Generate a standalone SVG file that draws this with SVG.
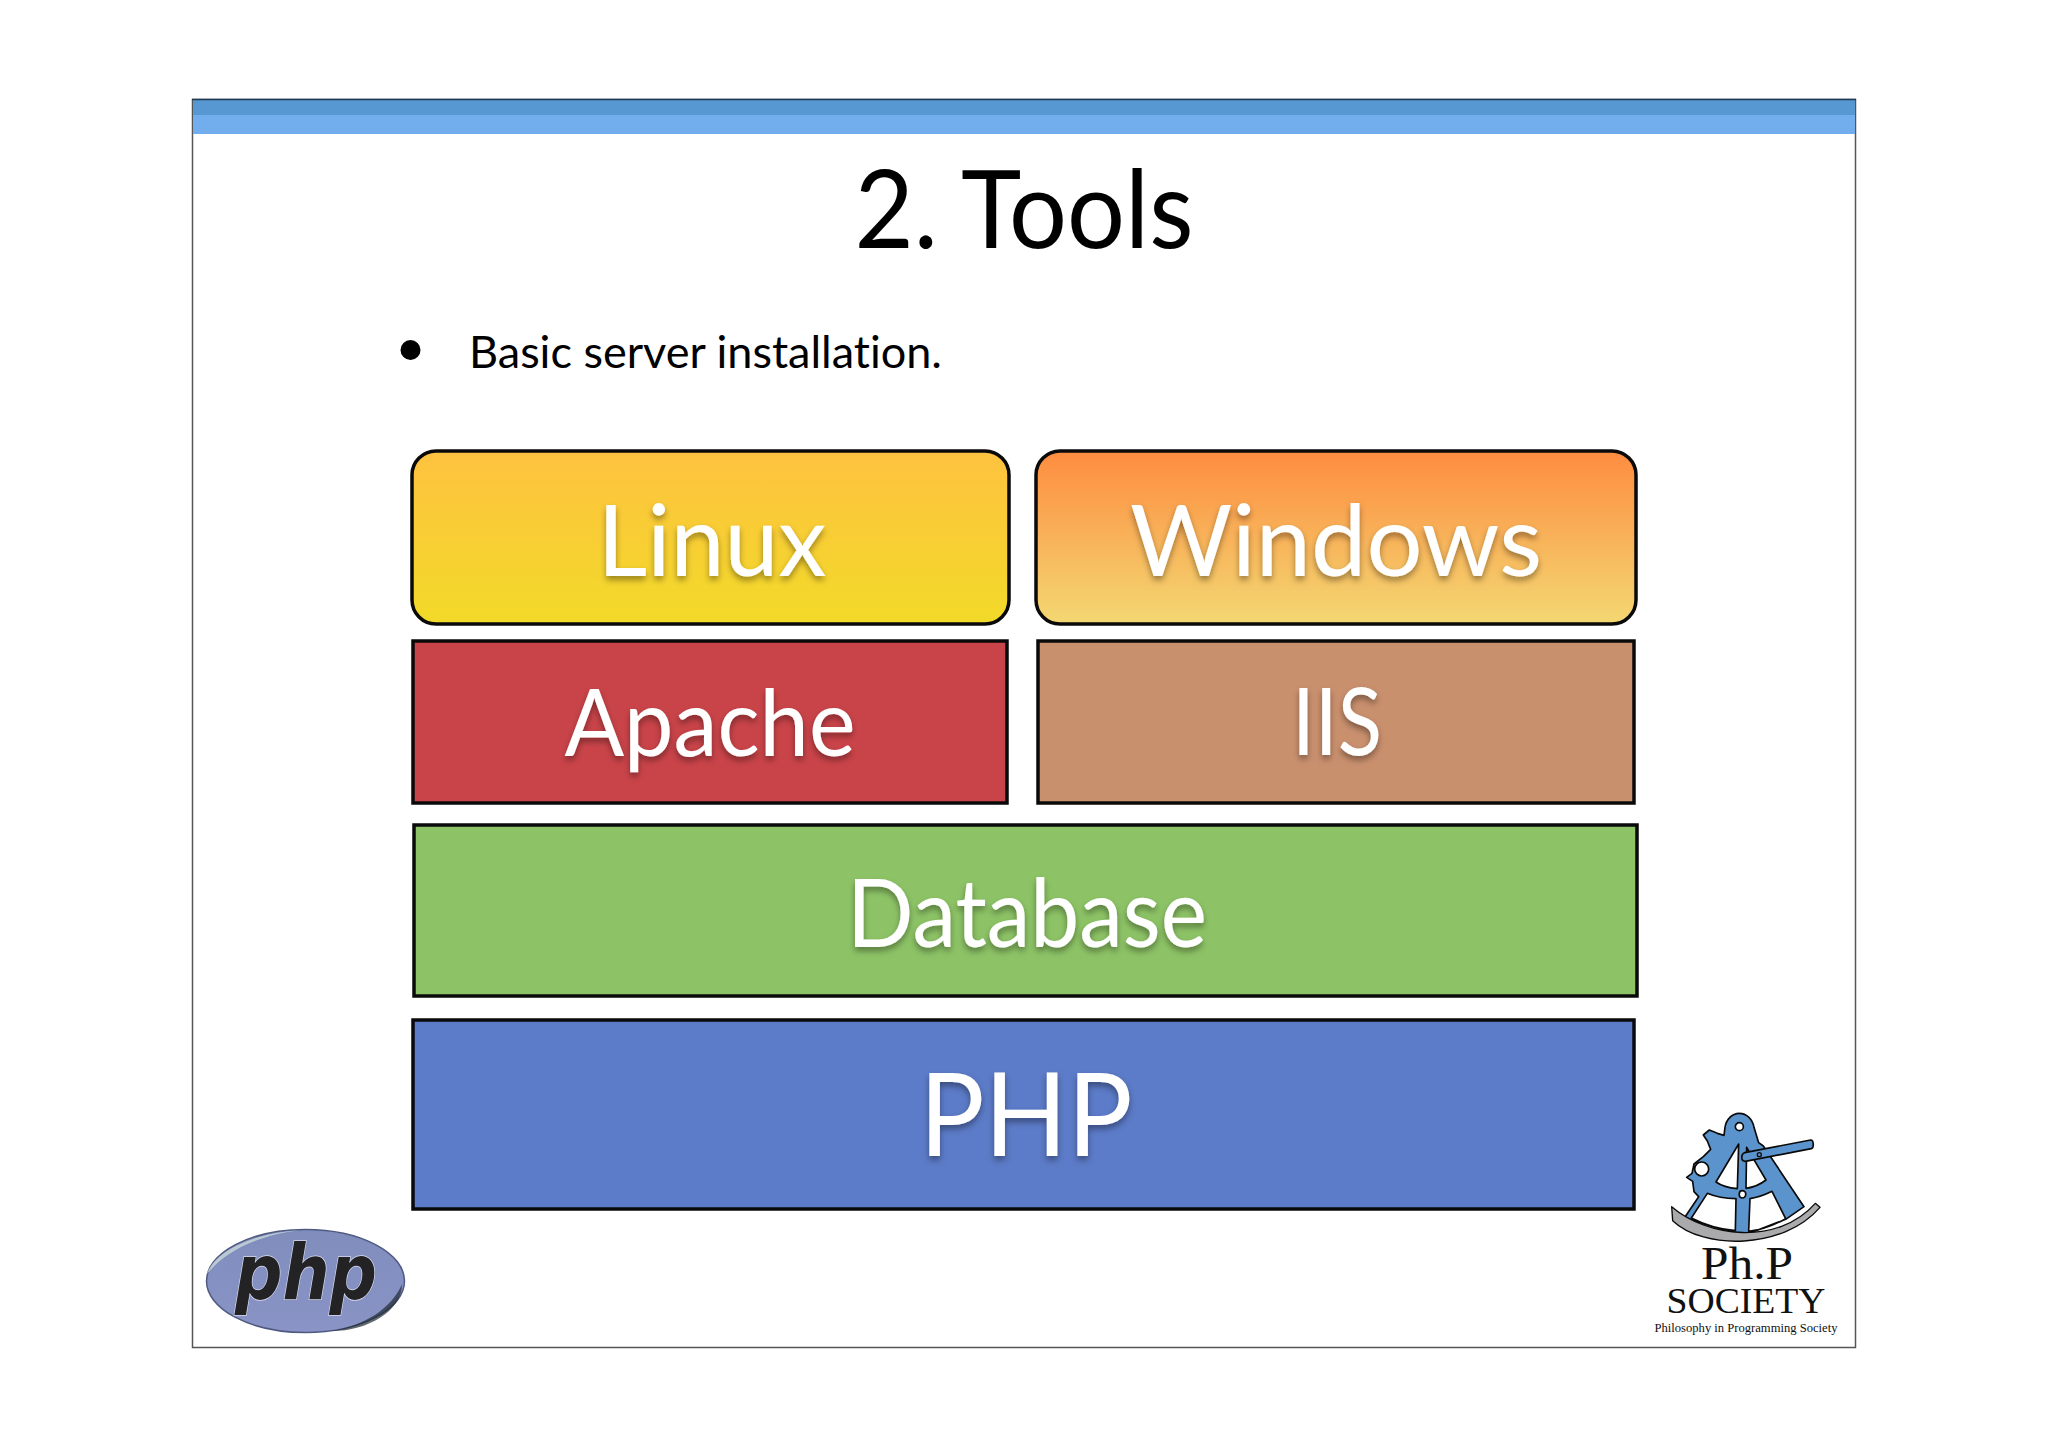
<svg xmlns="http://www.w3.org/2000/svg" width="2048" height="1447" viewBox="0 0 2048 1447">
<defs>
<linearGradient id="gLinux" x1="0" y1="0" x2="0" y2="1"><stop offset="0" stop-color="#fec240"/><stop offset="1" stop-color="#f2da28"/></linearGradient>
<linearGradient id="gWin" x1="0" y1="0" x2="0" y2="1"><stop offset="0" stop-color="#fe8c40"/><stop offset="1" stop-color="#f3d872"/></linearGradient>
<linearGradient id="gPhp" x1="0" y1="0" x2="0" y2="1"><stop offset="0" stop-color="#7f8dbd"/><stop offset="1" stop-color="#8a94c6"/></linearGradient>
<filter id="sh" x="-10%" y="-20%" width="120%" height="140%"><feDropShadow dx="0" dy="4" stdDeviation="3" flood-color="#000" flood-opacity="0.38"/></filter>
</defs>
<style>
text{font-variant-ligatures:none}
.box{stroke:#0a0a0a;stroke-width:3.5}
.lab{font-family:"Lato","Liberation Sans",sans-serif;fill:#fff;text-anchor:middle;filter:url(#sh)}
.ser{font-family:"Liberation Serif",serif;fill:#111;text-anchor:middle}
.sx{fill:#5b94cc;stroke:#0a0a0a;stroke-width:5;stroke-linejoin:round}
</style>
<rect width="2048" height="1447" fill="#fff"/>
<g id="slide">
<rect x="192.5" y="99.5" width="1663" height="1248" fill="#fff" stroke="#555" stroke-width="1.5"/>
<rect x="193" y="100" width="1662" height="15" fill="#5898d2"/>
<rect x="193" y="115" width="1662" height="19" fill="#72aeee"/>
<line x1="192" y1="99.5" x2="1856" y2="99.5" stroke="#1d3a55" stroke-width="1.5"/>
</g>
<text id="title" x="1024" y="248" font-family="Lato,'Liberation Sans',sans-serif" font-size="108" text-anchor="middle" textLength="339" lengthAdjust="spacingAndGlyphs" fill="#000">2. Tools</text>
<g id="bullet">
<circle cx="410.500" cy="350" r="10" fill="#000"/>
<text x="469" y="368" font-family="Lato,'Liberation Sans',sans-serif" font-size="45" textLength="473" lengthAdjust="spacingAndGlyphs" fill="#000">Basic server installation.</text>
</g>
<g id="linux"><rect class="box" x="412" y="451" width="597" height="173" rx="24" fill="url(#gLinux)"/><text class="lab" x="712" y="576" font-size="98" textLength="229" lengthAdjust="spacingAndGlyphs">Linux</text></g>
<g id="windows"><rect class="box" x="1036" y="451" width="600" height="173" rx="24" fill="url(#gWin)"/><text class="lab" x="1336" y="576" font-size="98" textLength="412" lengthAdjust="spacingAndGlyphs">Windows</text></g>
<g id="apache"><rect class="box" x="413" y="641" width="594" height="162" fill="#c94449"/><text class="lab" x="710" y="756" font-size="94" textLength="291" lengthAdjust="spacingAndGlyphs">Apache</text></g>
<g id="iis"><rect class="box" x="1038" y="641" width="596" height="162" fill="#c9906e"/><text class="lab" x="1337" y="755" font-size="94" textLength="90" lengthAdjust="spacingAndGlyphs">IIS</text></g>
<g id="database"><rect class="box" x="414" y="825" width="1223" height="171" fill="#8dc366"/><text class="lab" x="1027" y="947" font-size="95" textLength="360" lengthAdjust="spacingAndGlyphs">Database</text></g>
<g id="php"><rect class="box" x="413" y="1020" width="1221" height="189" fill="#5c7bc8"/><text class="lab" x="1026" y="1156" font-size="116" textLength="213" lengthAdjust="spacingAndGlyphs">PHP</text></g>
<g id="php-logo">
<ellipse cx="305.500" cy="1281" rx="99" ry="51.500" fill="url(#gPhp)" stroke="#4f5a80" stroke-width="1.500"/>
<path d="M330 1331C365 1326 392 1308 402 1284C402 1312 365 1332 330 1331Z" fill="#1f2a33" opacity=".7"/>
<path d="M207 1274C215 1250 255 1233 300 1230C255 1236 225 1252 207 1274Z" fill="#c8d8d8" opacity=".8"/>
<text x="306" y="1299" font-family="'DejaVu Sans',sans-serif" font-weight="700" font-style="italic" font-size="77" text-anchor="middle" textLength="142" lengthAdjust="spacingAndGlyphs" fill="#232326" stroke="#d9dcec" stroke-width="1.500" paint-order="stroke">php</text>
</g>
<g id="society-logo">
<g transform="translate(1620 1090) scale(.33333)">
<path class="sx" fill-rule="evenodd" d="M358 70C335 70 318 90 315 112L312 136L292 130L268 120L250 135L262 153L272 178L250 200L222 222L216 250L200 262L218 274L222 305L236 320L193 384L345 430L388 430L497 388L552 350L430 168L416 158L402 112C398 88 380 70 358 70Z
M358 98A12 12 0 1 0 358.100 122A12 12 0 1 0 358 98Z
M245 216A21 21 0 1 0 245.100 258A21 21 0 1 0 245 216Z
M356 162L288 276C305 288 330 294 352 296Z
M380 172L378 295C400 292 420 284 438 270Z
M366 302C356 302 354 322 366 324C380 324 382 302 366 302Z
M262 310L214 384C255 405 300 418 346 422L348 326C315 326 285 320 262 310Z
M390 326L386 424C425 420 465 404 497 386L456 304C430 317 410 323 390 326Z"/>
<path d="M155 350C260 440 470 470 586 340L600 352C490 480 250 480 158 392Z" fill="#aaaaac" stroke="#0a0a0a" stroke-width="4" stroke-linejoin="round"/>
<path class="sx" d="M374 188L572 150C582 150 582 174 574 176L376 214C362 214 362 192 374 188Z"/>
<circle cx="418" cy="194" r="6" fill="#5b94cc" stroke="#0a0a0a" stroke-width="4"/>
</g>
<text class="ser" x="1747" y="1279" font-size="46" textLength="92" lengthAdjust="spacingAndGlyphs">Ph.P</text>
<text class="ser" x="1746" y="1313" font-size="36" textLength="159" lengthAdjust="spacingAndGlyphs">SOCIETY</text>
<text class="ser" x="1746" y="1332" font-size="12.500" textLength="183" lengthAdjust="spacingAndGlyphs">Philosophy in Programming Society</text>
</g>
</svg>
